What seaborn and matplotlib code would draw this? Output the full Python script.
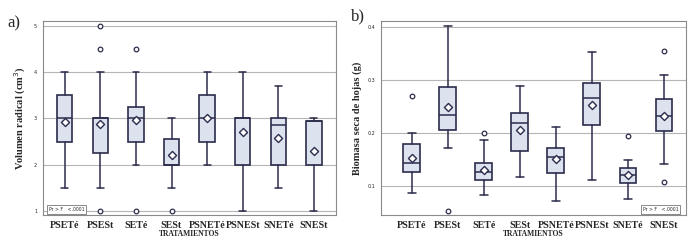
import matplotlib
matplotlib.use("Agg")
import matplotlib.pyplot as plt
import pandas as pd
import seaborn as sns

# Treatments (same for both panels)
treatments = ['PSETé', 'PSESt', 'SETé', 'SESt', 'PSNETé', 'PSNESt', 'SNETé', 'SNESt']

# Panel a) Volumen radical (cm3)
vol_whislo = [1.5, 1.5, 2.0, 1.5, 2.0, 1.0, 1.5, 1.0]
vol_q1 = [2.5, 2.25, 2.5, 2.0, 2.5, 2.0, 2.0, 2.0]
vol_med = [3.0, 3.0, 3.0, 2.0, 3.0, 3.0, 2.85, 2.95]
vol_q3 = [3.5, 3.0, 3.25, 2.55, 3.5, 3.0, 3.0, 2.95]
vol_whishi = [4.0, 4.0, 4.0, 3.0, 4.0, 4.0, 3.7, 3.0]
vol_mean = [2.92, 2.88, 2.96, 2.2, 3.01, 2.7, 2.58, 2.29]
vol_outliers = [[], [5.0, 4.5, 1.0], [4.5, 1.0], [1.0], [], [], [], []]

# Panel b) Biomasa seca de hojas (g)
bio_whislo = [0.086, 0.172, 0.082, 0.116, 0.071, 0.111, 0.075, 0.142]
bio_q1 = [0.127, 0.205, 0.111, 0.165, 0.125, 0.215, 0.105, 0.204]
bio_med = [0.144, 0.233, 0.126, 0.219, 0.155, 0.265, 0.121, 0.232]
bio_q3 = [0.179, 0.287, 0.144, 0.238, 0.172, 0.294, 0.133, 0.263]
bio_whishi = [0.200, 0.402, 0.187, 0.288, 0.211, 0.353, 0.148, 0.310]
bio_mean = [0.153, 0.248, 0.130, 0.206, 0.150, 0.253, 0.120, 0.231]
bio_outliers = [[0.270], [0.053], [0.199], [], [], [], [0.194], [0.355, 0.107]]

BOX_FILL = '#dde3ee'
EDGE = '#2c2c4c'
SERIF = ['Liberation Serif', 'DejaVu Serif']

sns.set_style('white')


def draw_panel(ax, whislo, q1, med, q3, whishi, mean, outliers, width):
    stats = []
    for i, name in enumerate(treatments):
        stats.append(dict(label=name, whislo=whislo[i], q1=q1[i], med=med[i],
                          q3=q3[i], whishi=whishi[i], fliers=[]))
    ax.bxp(stats, positions=range(len(treatments)), widths=width,
           showfliers=False, patch_artist=True,
           boxprops=dict(facecolor=BOX_FILL, edgecolor=EDGE, linewidth=1.2),
           medianprops=dict(color=EDGE, linewidth=1.1),
           whiskerprops=dict(color=EDGE, linewidth=1.1),
           capprops=dict(color=EDGE, linewidth=1.1), capwidths=width * 0.45)

    # outliers
    out_df = pd.DataFrame([(t, v) for t, vals in zip(treatments, outliers) for v in vals],
                          columns=['trat', 'val'])
    sns.scatterplot(data=out_df.assign(pos=out_df['trat'].map(treatments.index)),
                    x='pos', y='val', ax=ax, marker='o', s=11,
                    facecolor='white', edgecolor=EDGE, linewidth=0.9, zorder=5)
    # means
    mean_df = pd.DataFrame({'pos': range(len(treatments)), 'val': mean})
    sns.scatterplot(data=mean_df, x='pos', y='val', ax=ax, marker='D', s=17,
                    facecolor='white', edgecolor=EDGE, linewidth=1.0, zorder=6)

    ax.yaxis.grid(True, color='#b5b5b5', linewidth=0.8)
    ax.set_axisbelow(True)
    for sp in ax.spines.values():
        sp.set_color('#8a8a8a')
        sp.set_linewidth(0.8)
    ax.set_xticks(range(len(treatments)))
    ax.set_xticklabels(treatments, fontfamily=SERIF, fontweight='bold', fontsize=7.2)
    ax.tick_params(axis='x', length=2.5, width=0.6, pad=2)
    ax.tick_params(axis='y', length=2.5, width=0.6, pad=1.5, labelsize=3.5)
    ax.set_xlabel('TRATAMIENTOS', fontfamily=SERIF, fontweight='bold', fontsize=5.5,
                  labelpad=-0.5)


fig = plt.figure(figsize=(7, 2.5), dpi=100)
ax1 = fig.add_axes([0.061, 0.14, 0.419, 0.776])
ax2 = fig.add_axes([0.544, 0.14, 0.436, 0.776])

draw_panel(ax1, vol_whislo, vol_q1, vol_med, vol_q3, vol_whishi, vol_mean, vol_outliers, 0.43)
ax1.set_ylim(0.91, 5.11)
ax1.set_xlim(-0.62, 7.62)
ax1.set_yticks([1, 2, 3, 4, 5])
ax1.set_yticklabels(['1', '2', '3', '4', '5'])
ax1.set_ylabel('Volumen radical (cm$^3$)', fontfamily=SERIF, fontweight='bold',
               fontsize=7.5, labelpad=4)

draw_panel(ax2, bio_whislo, bio_q1, bio_med, bio_q3, bio_whishi, bio_mean, bio_outliers, 0.47)
ax2.set_ylim(0.045, 0.411)
ax2.set_xlim(-0.86, 7.61)
ax2.set_yticks([0.1, 0.2, 0.3, 0.4])
ax2.set_yticklabels(['0.1', '0.2', '0.3', '0.4'])
ax2.set_ylabel('Biomasa seca de hojas (g)', fontfamily=SERIF, fontweight='bold',
               fontsize=7.5, labelpad=4)

# Pr > F inset boxes
ax1.text(0.02, 0.028, 'Pr > F   <.0001', transform=ax1.transAxes, fontsize=3.3,
         va='center', ha='left',
         bbox=dict(boxstyle='square,pad=0.35', facecolor='white', edgecolor='#777777',
                   linewidth=0.6))
ax2.text(0.975, 0.028, 'Pr > F   <.0001', transform=ax2.transAxes, fontsize=3.3,
         va='center', ha='right',
         bbox=dict(boxstyle='square,pad=0.35', facecolor='white', edgecolor='#777777',
                   linewidth=0.6))

fig.text(0.010, 0.905, 'a)', fontfamily=SERIF, fontsize=12, va='center')
fig.text(0.502, 0.935, 'b)', fontfamily=SERIF, fontsize=12, va='center')

fig.savefig('out.png', dpi=100)
